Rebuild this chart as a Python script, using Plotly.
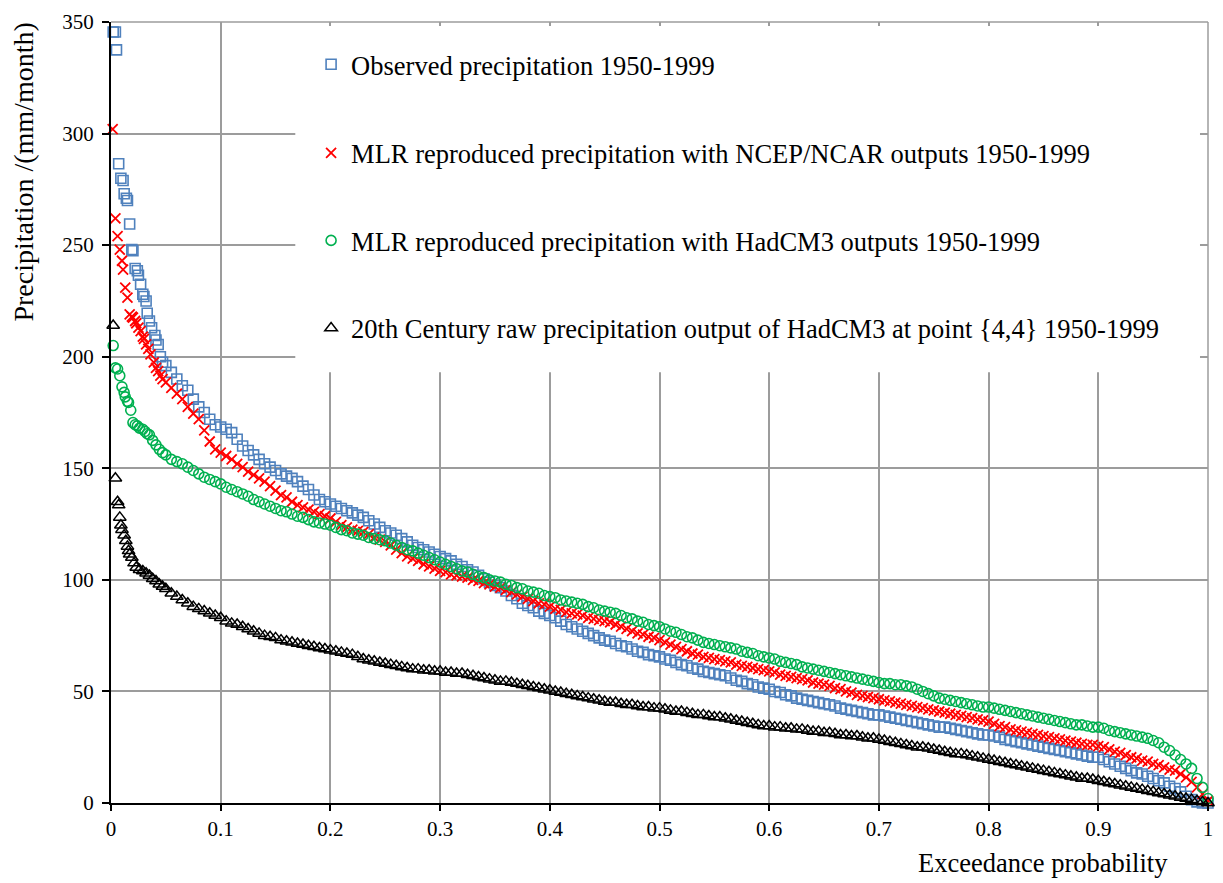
import plotly.graph_objects as go

# ---------------- data ----------------
# exceedance probability grid used for the body of every curve
body_p = [round(0.05 + 0.005 * i, 3) for i in range(191)]

obs_head_p = [0.002, 0.004, 0.005, 0.007, 0.009, 0.011, 0.012, 0.014, 0.015, 0.017,
              0.019, 0.020, 0.022, 0.024, 0.025, 0.027, 0.029, 0.030, 0.032, 0.033,
              0.035, 0.037, 0.040, 0.041, 0.043, 0.045, 0.047]
obs_head_mm = [345.5, 345.5, 337.5, 286.5, 280, 279, 273, 271, 270, 259.5,
               248, 247.5, 239.5, 238.5, 236.5, 232.5, 228, 227, 225, 219.5,
               216, 213, 209.5, 207.5, 205.5, 200, 197.5]
obs_body_mm = [196, 193, 190, 187, 185, 181, 177.5, 175, 172, 169.5,
               168.5, 167.5, 166, 163, 160, 158, 156, 154, 152, 150.5,
               149, 147.5, 146.5, 145.5, 144, 142, 140.5, 138, 136, 135,
               134, 133, 132, 131, 130, 129, 128, 126.5, 125, 123.5,
               122, 121, 120, 118.5, 117, 115.5, 114.5, 113.5, 112.5, 111.5,
               110.5, 109.5, 108.5, 107, 106, 104.5, 103.5, 102, 100.5, 99,
               97.5, 96.5, 95, 93, 91.5, 89.5, 88.5, 87.5, 86, 85,
               84, 83, 81.5, 80, 79, 78, 77, 76, 75, 74,
               73, 72.5, 71.5, 70.5, 70, 69, 68, 67.5, 66.5, 66,
               65.5, 64.5, 64, 63, 62, 61.5, 60.5, 60, 59, 58.5,
               58, 57.5, 57, 56, 55, 54.5, 53.5, 53, 52, 51.5,
               51, 50, 49.5, 48.5, 48, 47, 46.5, 46, 45.5, 45,
               44.5, 44, 43.5, 42.5, 42, 41.5, 41, 40.5, 40, 39.5,
               39.5, 39, 38.5, 38, 37.5, 37, 36.5, 36, 35.5, 35,
               34.5, 34, 34, 33.5, 33, 32.5, 32, 31.5, 31, 30.5,
               30.5, 30, 29.5, 28.5, 28, 27.5, 27, 26.5, 26, 25.5,
               25, 24.5, 24, 23.5, 23, 22.5, 22, 21.5, 21, 20.5,
               20.5, 19.5, 18.5, 17.5, 16.5, 15.5, 14.5, 13.5, 13, 12,
               11, 10, 9, 7.5, 6.5, 5, 3, 1.5, 0.5, 0,
               0]

ncep_head_p = [0.0015, 0.004, 0.006, 0.008, 0.010, 0.011, 0.013, 0.015, 0.017, 0.019,
               0.020, 0.022, 0.023, 0.025, 0.027, 0.029, 0.030, 0.032, 0.034, 0.036,
               0.039, 0.041, 0.043, 0.045, 0.047]
ncep_head_mm = [302, 262, 254, 248, 243, 239, 231, 226.5, 219, 218,
                217.5, 216, 215, 213, 211.5, 209, 208, 205.5, 203.5, 201,
                197.5, 195, 193.5, 191.5, 190]
ncep_body_mm = [188.5, 186, 183.5, 181, 177.5, 174.5, 172, 167, 162, 158.5,
                157, 155.5, 154, 152, 150.5, 148.5, 147, 145.5, 144, 142,
                140, 138, 137, 135, 133.5, 132.5, 131.5, 130.5, 129.5, 128.5,
                127.5, 126, 124.5, 123.5, 122.5, 122, 121.5, 120.5, 119, 118,
                117, 115.5, 113.5, 112, 110.5, 109.5, 108.5, 107, 106, 105,
                104, 103.5, 102.5, 102, 101.5, 101, 100, 99.5, 98.5, 98,
                97, 96.5, 95.5, 94.5, 93.5, 92.5, 91.5, 90.5, 89.5, 89,
                88, 87, 86.5, 85.5, 85, 84.5, 84, 83, 82.5, 82,
                81.5, 81, 80, 79, 78, 77, 76, 75.5, 74.5, 74,
                73, 72, 71, 70, 69, 68, 67, 66.5, 65.5, 65,
                64.5, 64, 63.5, 63, 62, 61.5, 61, 60.5, 60, 59.5,
                59, 58.5, 57.5, 57, 56.5, 56, 55.5, 55, 54, 53.5,
                53, 52.5, 51.5, 51, 50, 49.5, 48.5, 48, 47.5, 47,
                46.5, 46, 45.5, 45, 44.5, 44, 43.5, 43, 42.5, 42,
                41.5, 41, 40.5, 40, 39.5, 39, 38.5, 38, 37.5, 37,
                36.5, 35.5, 34.5, 34, 33, 32.5, 32, 31.5, 31, 30.5,
                30, 29.5, 29, 28.5, 28, 27.5, 27, 26.5, 26, 26,
                25.5, 25, 24, 23, 22.5, 21.5, 20.5, 20, 19, 18.5,
                17.5, 17, 16, 15, 14.5, 13, 11.5, 9.5, 7, 4,
                1]

had_head_p = [0.002, 0.004, 0.006, 0.008, 0.010, 0.012, 0.013, 0.015, 0.016, 0.018,
              0.020, 0.022, 0.024, 0.026, 0.029, 0.031, 0.033, 0.035, 0.038, 0.041,
              0.044, 0.047]
had_head_mm = [205, 195, 194.5, 191.5, 186.5, 184, 182, 180, 179.5, 176,
               170.5, 169.5, 169, 168, 167.5, 166.5, 165.5, 165, 162.5, 160.5,
               158.5, 157]
had_body_mm = [156, 154, 153, 152, 150.5, 149, 147.5, 146, 145, 144,
               143, 141.5, 140.5, 139.5, 138.5, 137.5, 136, 135, 134, 133,
               132, 131, 130.5, 129.5, 128.5, 128, 127, 126, 125.5, 125,
               124.5, 123.5, 122.5, 122, 121, 120.5, 120, 119, 118.5, 118,
               117.5, 116.5, 115.5, 114.5, 113.5, 113, 112, 111, 110, 109,
               108, 107, 106, 105, 104, 103.5, 102.5, 101.5, 101, 100,
               99.5, 99, 98, 97.5, 96.5, 96, 95, 94.5, 94, 93,
               92.5, 92, 91, 90.5, 90, 89.5, 89, 88, 87.5, 86.5,
               86, 85.5, 85, 84, 83, 82.5, 81.5, 81, 80, 79.5,
               79, 78, 77, 76.5, 75.5, 74.5, 74, 73, 72, 71.5,
               71, 70.5, 70, 69.5, 69, 68, 67.5, 67, 66, 65.5,
               65, 64.5, 63.5, 63, 62.5, 62, 61, 60.5, 60, 59.5,
               59, 58.5, 58, 57.5, 57, 56.5, 56, 55.5, 55, 54.5,
               54, 53.5, 53.5, 53, 53, 52.5, 52, 51, 50, 49,
               48, 47, 46.5, 46, 45.5, 45, 44.5, 44, 43.5, 43,
               43, 42.5, 42, 41.5, 41, 40.5, 40, 39.5, 39, 38.5,
               38, 37.5, 37, 36.5, 36, 35.5, 35, 35, 34.5, 34,
               34, 33.5, 32.5, 32, 31.5, 31, 30.5, 30, 29.5, 29,
               28, 27, 25, 23.5, 21.5, 19.5, 17.5, 15.5, 11, 7,
               2]

raw_head_p = [0.002, 0.004, 0.006, 0.007, 0.008, 0.009, 0.010, 0.012, 0.0135, 0.015,
              0.016, 0.017, 0.019, 0.021, 0.023, 0.026, 0.029, 0.032, 0.035, 0.038,
              0.041, 0.044, 0.047]
raw_head_mm = [214, 145.5, 135, 133.5, 128, 124.5, 122.5, 120, 117.5, 115,
               113, 111.5, 110, 107.5, 105.5, 104.5, 104, 103, 102, 100.5,
               99.5, 98, 97]
raw_body_mm = [96, 94, 92.5, 91, 89.5, 88, 87, 86, 85, 84,
               83, 81.5, 80.5, 80, 79, 78, 77, 76, 75, 74.5,
               74, 73, 72.5, 72, 71.5, 71, 70.5, 70, 69.5, 69,
               68.5, 68, 67.5, 67, 66.5, 65.5, 64.5, 64, 63.5, 63,
               62.5, 62, 61.5, 61, 60.5, 60, 60, 59.5, 59.5, 59,
               59, 58.5, 58.5, 58, 58, 57.5, 57, 56.5, 56, 55.5,
               55, 54.5, 54.5, 54, 53.5, 53, 52.5, 52, 51.5, 51,
               50.5, 50, 49.5, 49, 48.5, 48, 47.5, 47, 46.5, 46,
               45.5, 45, 45, 44.5, 44, 44, 43.5, 43, 43, 42.5,
               42.5, 42, 41.5, 41, 41, 40.5, 40, 39.5, 39.5, 39,
               38.5, 38.5, 38, 37.5, 37, 36.5, 36, 35.5, 35, 34.5,
               34.5, 34, 34, 33.5, 33.5, 33, 33, 32.5, 32, 32,
               31.5, 31.5, 31, 30.5, 30.5, 30, 30, 29.5, 29, 29,
               28.5, 28, 27.5, 27, 26.5, 26, 25.5, 25, 25, 24.5,
               24, 23.5, 23, 22.5, 22, 22, 21.5, 21, 20.5, 20,
               19.5, 19, 18.5, 18, 17.5, 17, 16.5, 16, 15.5, 15,
               14.5, 14, 13.5, 13, 12.5, 12, 11.5, 11, 11, 10.5,
               10, 9.5, 9, 8.5, 8, 7.5, 7, 6.5, 6, 5.5,
               5, 4.5, 4, 3.5, 3, 2.5, 2, 1.5, 1, 0.5,
               0]

series_names = [
    "Observed precipitation 1950-1999",
    "MLR reproduced precipitation with NCEP/NCAR outputs 1950-1999",
    "MLR reproduced precipitation with HadCM3 outputs 1950-1999",
    "20th Century raw precipitation output of HadCM3 at point {4,4} 1950-1999",
]

x_tickvals = [0, 0.1, 0.2, 0.3, 0.4, 0.5, 0.6, 0.7, 0.8, 0.9, 1]
x_ticktext = ["0", "0.1", "0.2", "0.3", "0.4", "0.5", "0.6", "0.7", "0.8", "0.9", "1"]
y_tickvals = [0, 50, 100, 150, 200, 250, 300, 350]

# ---------------- figure ----------------
FONT = "Liberation Serif, Times New Roman, serif"
GRID = "#9C9C9C"

styles = [
    dict(symbol="square-open", size=10, color="#4F81BD", line=dict(width=1.6, color="#4F81BD")),
    dict(symbol="x-thin-open", size=10, color="#FF0000", line=dict(width=1.8, color="#FF0000")),
    dict(symbol="circle-open", size=10, color="#00B050", line=dict(width=1.6, color="#00B050")),
    dict(symbol="triangle-up-open", size=11, color="#000000", line=dict(width=1.5, color="#000000")),
]
data = [
    (obs_head_p, obs_head_mm, obs_body_mm),
    (ncep_head_p, ncep_head_mm, ncep_body_mm),
    (had_head_p, had_head_mm, had_body_mm),
    (raw_head_p, raw_head_mm, raw_body_mm),
]
legend_ids = ["legend", "legend2", "legend3", "legend4"]

fig = go.Figure()
for name, (hp, hm, bm), st, lg in zip(series_names, data, styles, legend_ids):
    fig.add_trace(go.Scatter(
        x=hp + body_p, y=hm + bm, mode="markers", name=name,
        marker=st, cliponaxis=False, legend=lg,
    ))

legend_y = [0.9455, 0.8321, 0.7200, 0.6079]
legend_common = dict(x=0.1824, xanchor="left", yanchor="middle",
                     bgcolor="rgba(0,0,0,0)", borderwidth=0,
                     font=dict(family=FONT, size=26.5, color="#000000"))

fig.update_layout(
    width=1223, height=883,
    margin=dict(l=111, r=10, t=18, b=80),
    paper_bgcolor="white", plot_bgcolor="white",
    showlegend=True,
    legend=dict(y=legend_y[0], **legend_common),
    legend2=dict(y=legend_y[1], **legend_common),
    legend3=dict(y=legend_y[2], **legend_common),
    legend4=dict(y=legend_y[3], **legend_common),
    xaxis=dict(range=[0, 1], tickvals=x_tickvals, ticktext=x_ticktext,
               showgrid=True, gridcolor=GRID, gridwidth=1.5, zeroline=False,
               showline=True, linecolor="#000000", linewidth=2,
               ticks="outside", ticklen=6, tickwidth=1.5, tickcolor="#000000",
               tickfont=dict(family=FONT, size=21, color="#000000")),
    yaxis=dict(range=[0, 350], tickvals=y_tickvals,
               showgrid=True, gridcolor=GRID, gridwidth=1.5, zeroline=False,
               showline=True, linecolor="#000000", linewidth=2,
               ticks="outside", ticklen=7, tickwidth=1.5, tickcolor="#000000",
               ticklabelstandoff=4,
               tickfont=dict(family=FONT, size=21, color="#000000")),
    shapes=[
        # white background of the legend block (hides the gridlines there)
        dict(type="rect", xref="paper", yref="paper", x0=0.168, x1=0.9927,
             y0=0.5516, y1=0.9949, fillcolor="white", line=dict(width=0),
             layer="above"),
        dict(type="line", xref="paper", yref="paper", x0=0, x1=1, y0=1, y1=1,
             line=dict(color=GRID, width=1.5), layer="above"),
        dict(type="line", xref="paper", yref="paper", x0=1, x1=1, y0=0, y1=1,
             line=dict(color=GRID, width=1.5), layer="below"),
    ],
    annotations=[
        dict(text="Precipitation /(mm/month)", textangle=-90, showarrow=False,
             xref="paper", yref="paper", x=-0.0799, y=0.8076,
             xanchor="center", yanchor="middle",
             font=dict(family=FONT, size=28, color="#000000")),
        dict(text="Exceedance probability", showarrow=False,
             xref="paper", yref="paper", x=0.9655, y=-0.0764,
             xanchor="right", yanchor="middle",
             font=dict(family=FONT, size=26.5, color="#000000")),
    ],
)

fig.write_html("out.html")
